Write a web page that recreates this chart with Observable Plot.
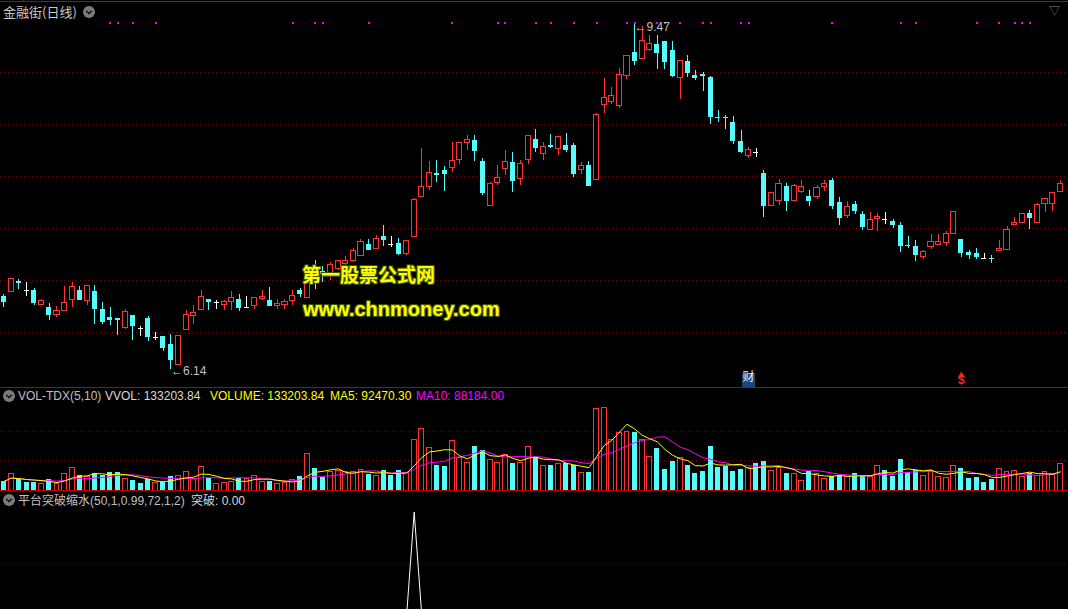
<!DOCTYPE html>
<html><head><meta charset="utf-8">
<script src="https://cdn.jsdelivr.net/npm/d3@7"></script>
<script src="https://cdn.jsdelivr.net/npm/@observablehq/plot@0.6"></script>
<style>
html,body{margin:0;padding:0;background:#000;overflow:hidden;}
#wrap{position:relative;width:1068px;height:609px;background:#000;overflow:hidden;font-family:"Liberation Sans","Noto Sans CJK SC",sans-serif;}
.panel{position:absolute;left:0;}
.panel svg{overflow:hidden;display:block;}
.lbl{position:absolute;font-size:12px;line-height:14px;white-space:nowrap;}
.cjk{font-family:"Noto Sans CJK SC","Liberation Sans",sans-serif;}
.hr{position:absolute;left:0;width:1068px;height:1px;background:#c00000;}
.chev{position:absolute;width:12px;height:12px;}
.wm{position:absolute;color:#ffff00;font-weight:bold;white-space:nowrap;
  text-shadow:1px 1px 0 #3f5200,-1px -1px 0 #3f5200,1px -1px 0 #3f5200,-1px 1px 0 #3f5200;}
</style></head><body><div id="wrap"></div>
<script>
// ---- data ----
const title = "金融街(日线)";
const openP = [6.85,6.89,6.99,6.90,6.90,6.76,6.74,6.67,6.71,6.81, 6.90,6.80,6.89,6.72,6.64,6.63,6.54,6.66,6.54,6.63,
 6.45,6.46,6.38,6.19,6.52,6.66,6.72,6.82,6.79,6.76, 6.79,6.82,6.74,6.75,6.82,6.81,6.75,6.76,6.80,6.90,
 6.83,7.09,7.09,7.06,7.11,7.16,7.19,7.24,7.35,7.30, 7.42,7.35,7.36,7.25,7.42,7.80,7.90,8.03,8.06,8.08,
 8.16,8.32,8.35,8.14,7.72,7.94,8.07,8.13,7.98,8.16, 8.36,8.22,8.30,8.26,8.30,8.30,8.06,8.11,7.97,8.69,
 8.72,8.68,8.97,9.19,9.13,9.22,9.27,9.30,9.21,8.95, 9.11,8.97,8.98,8.95,8.57,8.57,8.52,8.34,8.20,8.23,
 8.03,7.72,7.76,7.90,7.76,7.85,7.81,7.80,7.90,7.96, 7.75,7.62,7.73,7.63,7.49,7.59,7.59,7.57,7.53,7.34,
 7.33,7.23,7.32,7.34,7.36,7.45,7.39,7.27,7.26,7.21, 7.21,7.28,7.29,7.53,7.55,7.64,7.55,7.74,7.74,7.85];
const highP = [6.87,7.02,7.01,6.98,6.92,6.82,6.78,6.75,6.94,6.98, 6.94,6.95,6.95,6.79,6.74,6.63,6.72,6.66,6.56,6.65,
 6.50,6.46,6.48,6.47,6.71,6.76,6.90,6.82,6.81,6.81, 6.89,6.87,6.85,6.84,6.90,6.93,6.82,6.82,6.90,6.92,
 7.04,7.19,7.13,7.17,7.19,7.23,7.31,7.39,7.39,7.43, 7.53,7.42,7.40,7.38,7.79,8.27,8.14,8.15,8.10,8.33,
 8.33,8.39,8.39,8.17,7.94,8.11,8.25,8.23,8.15,8.39, 8.45,8.33,8.40,8.38,8.41,8.32,8.13,8.14,8.61,8.94,
 8.86,9.04,9.16,9.47,9.44,9.36,9.36,9.30,9.30,9.12, 9.16,9.02,9.00,8.96,8.63,8.59,8.58,8.44,8.28,8.27,
 8.06,7.84,7.97,7.93,7.92,7.96,7.87,7.91,7.96,7.98, 7.80,7.76,7.76,7.66,7.65,7.64,7.65,7.59,7.56,7.42,
 7.38,7.29,7.44,7.44,7.47,7.66,7.39,7.29,7.31,7.26, 7.24,7.38,7.52,7.61,7.64,7.67,7.74,7.78,7.84,7.96];
const lowP = [6.74,6.89,6.91,6.85,6.76,6.76,6.62,6.64,6.70,6.74, 6.81,6.76,6.58,6.58,6.57,6.47,6.53,6.42,6.46,6.41,
 6.42,6.32,6.14,6.18,6.52,6.58,6.71,6.71,6.72,6.71, 6.71,6.70,6.73,6.72,6.81,6.75,6.72,6.72,6.76,6.84,
 6.83,6.91,6.98,7.00,7.10,7.14,7.17,7.23,7.29,7.30, 7.33,7.32,7.24,7.24,7.42,7.80,7.87,7.94,7.86,8.04,
 8.12,8.25,8.14,7.82,7.72,7.91,8.01,7.85,7.91,8.12, 8.23,8.15,8.27,8.20,8.23,7.99,8.02,7.90,7.97,8.61,
 8.69,8.65,8.93,9.07,9.13,9.20,9.03,9.03,8.95,8.74, 8.95,8.92,8.82,8.50,8.52,8.45,8.31,8.22,8.17,8.18,
 7.61,7.72,7.72,7.66,7.76,7.84,7.71,7.78,7.86,7.68, 7.53,7.60,7.63,7.48,7.49,7.47,7.54,7.50,7.27,7.31,
 7.18,7.20,7.30,7.34,7.33,7.45,7.22,7.20,7.20,7.20, 7.16,7.28,7.29,7.53,7.55,7.49,7.55,7.65,7.66,7.85];
const closeP = [6.79,7.01,6.97,6.90,6.78,6.80,6.66,6.71,6.78,6.94, 6.81,6.95,6.72,6.60,6.62,6.62,6.70,6.56,6.54,6.45,
 6.45,6.35,6.23,6.47,6.67,6.69,6.84,6.79,6.79,6.79, 6.83,6.73,6.74,6.83,6.84,6.75,6.77,6.79,6.85,6.87,
 6.99,7.05,7.06,7.15,7.19,7.19,7.28,7.37,7.29,7.40, 7.38,7.35,7.25,7.38,7.77,7.90,8.03,8.01,8.02,8.15,
 8.32,8.35,8.24,7.84,7.93,7.99,8.14,7.95,8.12,8.39, 8.27,8.28,8.28,8.38,8.25,8.02,8.10,7.90,8.59,8.75,
 8.77,8.98,9.16,9.11,9.30,9.27,9.18,9.10,8.96,9.11, 8.99,8.94,8.96,8.57,8.56,8.56,8.34,8.23,8.25,8.23,
 7.71,7.84,7.93,7.76,7.91,7.90,7.76,7.89,7.93,7.71, 7.60,7.71,7.66,7.51,7.58,7.61,7.59,7.53,7.33,7.33,
 7.24,7.27,7.37,7.37,7.45,7.66,7.26,7.24,7.22,7.21, 7.20,7.30,7.49,7.55,7.64,7.60,7.73,7.78,7.84,7.93];
const volume = [44000,79000,53000,41000,41000,30000,54000,30000,79000,113000, 74000,66000,84000,74000,89000,89000,59000,49000,35000,53000,
 39000,41000,69000,74000,89000,56000,118000,59000,30000,35000, 44000,59000,59000,74000,44000,44000,30000,39000,54000,69000,
 178000,109000,64000,89000,94000,89000,89000,102000,79000,72000, 99000,74000,99000,86000,250000,304000,211000,123000,118000,245000,
 158000,137000,217000,197000,151000,138000,173000,133000,138000,215000, 164000,122000,123000,133000,132000,123000,87000,89000,403000,408000,
 250000,285000,290000,286000,250000,166000,207000,104000,143000,160000, 123000,84000,94000,217000,113000,118000,94000,104000,109000,133000,
 143000,94000,113000,84000,79000,49000,94000,79000,59000,69000, 74000,69000,84000,69000,69000,123000,99000,69000,153000,89000,
 99000,74000,94000,69000,64000,123000,109000,59000,64000,39000, 52000,108000,93500,97500,68488.5,86000,71000,91000,81147.66,133203.84];
const priceGrid = [6.5, 7.0, 7.5, 8.0, 8.5, 9.0];
const volGrid = [146500, 289600];
const sigGrid = [0.5];
const dotIdx = [14,15,17,20,38,41,42,48,59,65,66,70,72,75,78,82,83,86,87,89,92,93,97,98,109,118,120,128,131,133,134,135];
const dotLevel = 9.48;
const breakIdx = [54];
const events = [{i:98, label:"财"}, {i:126, label:"$"}];

// ---- derived ----
const RED="#ff3232", CYAN="#54fcfc", WHITE="#ffffff", GRID="#760000";
const CRISP = "crispEdges";
const rows = openP.map((o,i)=>{
  const c = closeP[i];
  const dir = c>o ? "up" : c<o ? "down" : "flat";
  const volUp = dir==="up" || (dir==="flat" && (i===0 || c>=closeP[i-1]));
  return {i, o, h:highP[i], l:lowP[i], c, dir, volUp, v:volume[i]};
});
const ma = n => volume.map((_,i)=>d3.mean(volume.slice(Math.max(0,i-n+1), i+1)));
const ma5 = ma(5), ma10 = ma(10);
rows.forEach((d,i)=>{d.ma5=ma5[i]; d.ma10=ma10[i];});
const sig = rows.map(d=>({i:d.i, v: breakIdx.includes(d.i)?1:0}));
const last = rows.length-1;

const xs = {domain:[-0.434, 140.092], range:[0,1068], axis:null};
const font = '"Liberation Sans","Noto Sans CJK SC",sans-serif';
const baseStyle = {background:"#000", color:"#c8c8c8", fontFamily:font, fontSize:"12px"};
const candleColor = d => d.dir==="up"?RED:d.dir==="down"?CYAN:WHITE;
const hw = 0.33;

const hiRow = rows.reduce((a,b)=>b.h>a.h?b:a);
const loRow = rows.reduce((a,b)=>b.l<a.l?b:a);

const main = Plot.plot({
  width:1068, height:388, margin:0,
  x: xs,
  y: {domain:[5.9615, 9.6923], range:[388,0], axis:null},
  style: baseStyle,
  marks: [
    Plot.ruleY(priceGrid, {stroke:GRID, strokeDasharray:"1,3", shapeRendering:CRISP}),
    Plot.ruleX(rows, {x:"i", y1:"l", y2:"h", stroke:candleColor, shapeRendering:CRISP}),
    Plot.rect(rows.filter(d=>d.dir==="down"), {x1:d=>d.i-hw, x2:d=>d.i+hw, y1:"o", y2:"c", fill:CYAN, shapeRendering:CRISP}),
    Plot.rect(rows.filter(d=>d.dir==="up"), {x1:d=>d.i-hw, x2:d=>d.i+hw, y1:"o", y2:"c", fill:"#000", stroke:RED, shapeRendering:CRISP}),
    Plot.ruleY(rows.filter(d=>d.dir==="flat"), {y:"c", x1:d=>d.i-hw, x2:d=>d.i+hw, stroke:WHITE, shapeRendering:CRISP}),
    Plot.dot(dotIdx, {x:d=>d, y:()=>dotLevel, symbol:"square", r:1.15, fill:"#ff00ff", shapeRendering:CRISP}),
    Plot.text([hiRow], {x:"i", y:"h", text:d=>"←"+d.h.toFixed(2), textAnchor:"start", dy:4, fill:"#c0c0c0", fontSize:12}),
    Plot.text([loRow], {x:"i", y:"l", text:d=>"←"+d.l.toFixed(2), textAnchor:"start", dy:1, fill:"#c0c0c0", fontSize:12}),
    Plot.dot(events.filter(e=>e.label==="财"), {x:"i", frameAnchor:"bottom", dy:-8, symbol:"square", r:7.3, fill:"#1a4a7c"}),
    Plot.text(events.filter(e=>e.label==="财"), {x:"i", text:"label", frameAnchor:"bottom", dy:-8, fill:"#f0f0f0", fontSize:12, fontFamily:'"Noto Sans CJK SC",sans-serif'}),
    Plot.dot(events.filter(e=>e.label==="$"), {x:"i", frameAnchor:"bottom", dy:-13, symbol:"triangle", r:2.6, fill:"#ff2020"}),
    Plot.text(events.filter(e=>e.label==="$"), {x:"i", text:"label", frameAnchor:"bottom", dy:-5, fill:"#ff2020", fontSize:12, fontWeight:"bold"})
  ]
});

const vol = Plot.plot({
  width:1068, height:103, margin:0,
  x: xs,
  y: {domain:[0, 503268], range:[102,0], axis:null},
  style: baseStyle,
  marks: [
    Plot.ruleY(volGrid, {stroke:GRID, strokeDasharray:"1,3", shapeRendering:CRISP}),
    Plot.rect(rows.filter(d=>!d.volUp), {x1:d=>d.i-0.32, x2:d=>d.i+0.32, y1:0, y2:"v", fill:CYAN, shapeRendering:CRISP}),
    Plot.rect(rows.filter(d=>d.volUp), {x1:d=>d.i-0.32, x2:d=>d.i+0.32, y1:0, y2:"v", fill:"#000", stroke:RED, shapeRendering:CRISP}),
    Plot.line(rows, {x:"i", y:"ma10", stroke:"#ff00ff", strokeWidth:1}),
    Plot.line(rows, {x:"i", y:"ma5", stroke:"#ffff00", strokeWidth:1})
  ]
});

const ind = Plot.plot({
  width:1068, height:118, margin:0,
  x: xs,
  y: {domain:[0,1], range:[123.9, 20.7], axis:null},
  style: baseStyle,
  marks: [
    Plot.ruleY(sigGrid, {stroke:GRID, strokeDasharray:"1,3", shapeRendering:CRISP}),
    Plot.line(sig, {x:"i", y:"v", stroke:"#ffffff", strokeWidth:1})
  ]
});

// ---- layout ----
const wrap = document.getElementById("wrap");
function place(el, top){ const d=document.createElement("div"); d.className="panel"; d.style.top=top+"px"; d.appendChild(el); wrap.appendChild(d); }
place(main, 0); place(vol, 388); place(ind, 491);

function add(html){ wrap.insertAdjacentHTML("beforeend", html); }
const chev = (l,t)=>`<svg class="chev" style="left:${l}px;top:${t}px" viewBox="0 0 12 12"><circle cx="6" cy="6" r="6" fill="#7c7c7c"/><path d="M3.2 4.8 L6 7.6 L8.8 4.8" stroke="#1a1a1a" stroke-width="1.6" fill="none"/></svg>`;

add(`<div class="hr" style="top:1px"></div>`);
add(`<div style="position:absolute;left:23px;top:0;width:1px;height:2px;background:#c00000"></div>`);
add(`<div class="hr" style="top:387px"></div>`);
add(`<div class="hr" style="top:490px"></div>`);

add(`<div class="lbl cjk" style="left:3px;top:4px;font-size:13px;line-height:16px;color:#c8c8c8">${title}</div>`);
add(chev(83,6));
add(`<div class="lbl" style="left:1049px;top:4px;color:#8a8a8a;font-size:11px">▽</div>`);

const f2 = v => v.toFixed(2);
add(chev(3,390));
add(`<div class="lbl" style="left:18px;top:389px;color:#c0c0c0">VOL-TDX(5,10)</div>`);
add(`<div class="lbl" style="left:105px;top:389px;color:#d8d8d8">VVOL: ${f2(volume[last])}</div>`);
add(`<div class="lbl" style="left:210px;top:389px;color:#ffff00">VOLUME: ${f2(volume[last])}</div>`);
add(`<div class="lbl" style="left:330px;top:389px;color:#ffff00">MA5: ${f2(ma5[last])}</div>`);
add(`<div class="lbl" style="left:416px;top:389px;color:#ff00ff">MA10: ${f2(ma10[last])}</div>`);

add(chev(3,494));
add(`<div class="lbl" style="left:18px;top:493px;color:#c0c0c0"><span class="cjk">平台突破缩水</span>(50,1,0.99,72,1,2)</div>`);
add(`<div class="lbl" style="left:191px;top:493px;color:#d8d8d8"><span class="cjk">突破</span>: ${f2(sig[last].v)}</div>`);

add(`<div class="wm cjk" style="left:302px;top:261px;font-size:19px;line-height:26px">第一股票公式网</div>`);
add(`<div class="wm" style="left:303px;top:297px;font-size:20px;line-height:24px;font-family:'Liberation Sans',sans-serif">www.chnmoney.com</div>`);
</script></body></html>
